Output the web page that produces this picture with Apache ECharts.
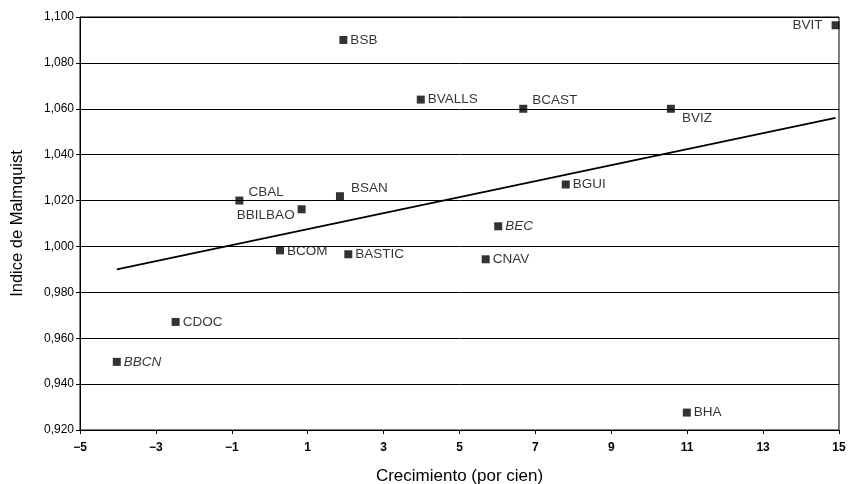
<!DOCTYPE html>
<html>
<head>
<meta charset="utf-8">
<script src="https://cdn.jsdelivr.net/npm/echarts@6/dist/echarts.min.js"></script>
<style>
  html, body { margin: 0; padding: 0; background: #fff; }
  #chart { width: 850px; height: 484px; }
</style>
</head>
<body>
<div id="chart"></div>
<script>
// datos
var names = ['BSB', 'BVALLS', 'BCAST', 'BVIZ', 'BVIT', 'BGUI', 'BEC', 'CBAL',
             'BSAN', 'BBILBAO', 'BCOM', 'BASTIC', 'CDOC', 'BBCN', 'CNAV', 'BHA'];
var crecimiento = [1.94, 3.98, 6.68, 10.57, 14.91, 7.80, 6.02, -0.80,
                   1.85, 0.84, 0.27, 2.07, -2.48, -4.03, 5.69, 10.99];
var malmquist = [1.090, 1.064, 1.060, 1.060, 1.0964, 1.027, 1.0088, 1.020,
                 1.0219, 1.0162, 0.9983, 0.9966, 0.9671, 0.9497, 0.9944, 0.9276];

// recta de tendencia (extremos)
var trendX = [-4.03, 14.91];
var trendY = [0.990, 1.056];

var xTicks = [-5, -3, -1, 1, 3, 5, 7, 9, 11, 13, 15];
var yTicks = [0.92, 0.94, 0.96, 0.98, 1.00, 1.02, 1.04, 1.06, 1.08, 1.10];

var FONT = 'Liberation Sans';

// posicion de cada etiqueta
function labelFor(name){
    var lab = { show: true, formatter: name, position: 'right', distance: 3,
                color: '#000', fontFamily: FONT, fontSize: 13.5 };
    switch(name){
        case 'BCAST': lab.offset = [2, -8]; break;
        case 'CBAL':  lab.offset = [2, -8]; break;
        case 'BSAN':  lab.offset = [4, -8]; break;
        case 'BVIZ':  lab.offset = [4, 10]; break;
        case 'BVIT':  lab.position = 'left'; lab.distance = 9; break;
        case 'BBILBAO': lab.position = 'left'; lab.distance = 3; lab.offset = [0, 6]; break;
        case 'BCOM':  lab.offset = [0, 1]; break;
        case 'BEC':   lab.fontStyle = 'italic'; break;
        case 'BBCN':  lab.fontStyle = 'italic'; break;
    }
    return lab;
}

function buildPoints(){
    var res = [];
    for(var i = 0; i < names.length; i++){
        res.push({ name: names[i], value: [crecimiento[i], malmquist[i]], label: labelFor(names[i]) });
    }
    return res;
}

function buildTrend(){
    var res = [];
    for(var i = 0; i < trendX.length; i++){
        res.push([trendX[i], trendY[i]]);
    }
    return res;
}

var myChart = echarts.init(document.getElementById('chart'));
var option = {
    animation: false,
    backgroundColor: '#fff',
    grid: { left: 80, right: 11, top: 17, bottom: 54, containLabel: false, outerBoundsMode: 'none',
            show: true, borderColor: '#000', borderWidth: 1 },
    xAxis: {
        type: 'value',
        min: xTicks[0], max: xTicks[xTicks.length - 1], interval: 2,
        name: 'Crecimiento (por cien)', nameLocation: 'middle', nameGap: 38,
        nameTextStyle: { fontFamily: FONT, fontSize: 17, color: '#000' },
        axisLine: { onZero: false, lineStyle: { color: '#000', width: 1 } },
        axisTick: { show: true, length: 4, lineStyle: { color: '#000' } },
        axisLabel: { fontFamily: FONT, fontSize: 12, fontWeight: 'bold', color: '#000', margin: 12,
                     formatter: function(v){ return v < 0 ? '\u2212' + Math.abs(v) : '' + v; } },
        splitLine: { show: false }
    },
    yAxis: {
        type: 'value',
        min: yTicks[0], max: yTicks[yTicks.length - 1], interval: 0.02,
        name: 'Indice de Malmquist', nameLocation: 'middle', nameGap: 54, nameRotate: 90,
        nameTextStyle: { fontFamily: FONT, fontSize: 16.5, color: '#000' },
        axisLine: { show: true, onZero: false, lineStyle: { color: '#000', width: 1 } },
        axisTick: { show: true, length: 4, lineStyle: { color: '#000' } },
        axisLabel: { fontFamily: FONT, fontSize: 12, color: '#000', margin: 6,
                     formatter: function(v){ return v.toFixed(3).replace('.', ','); } },
        splitLine: { show: true, lineStyle: { color: '#000', width: 1 } }
    },
    series: [
        {
            type: 'scatter',
            symbol: 'rect',
            symbolSize: 8,
            itemStyle: { color: '#000' },
            data: buildPoints(),
            z: 3
        },
        {
            type: 'line',
            data: buildTrend(),
            symbol: 'none',
            lineStyle: { color: '#000', width: 1.8 },
            z: 2
        }
    ]
};
myChart.setOption(option);
</script>
</body>
</html>
